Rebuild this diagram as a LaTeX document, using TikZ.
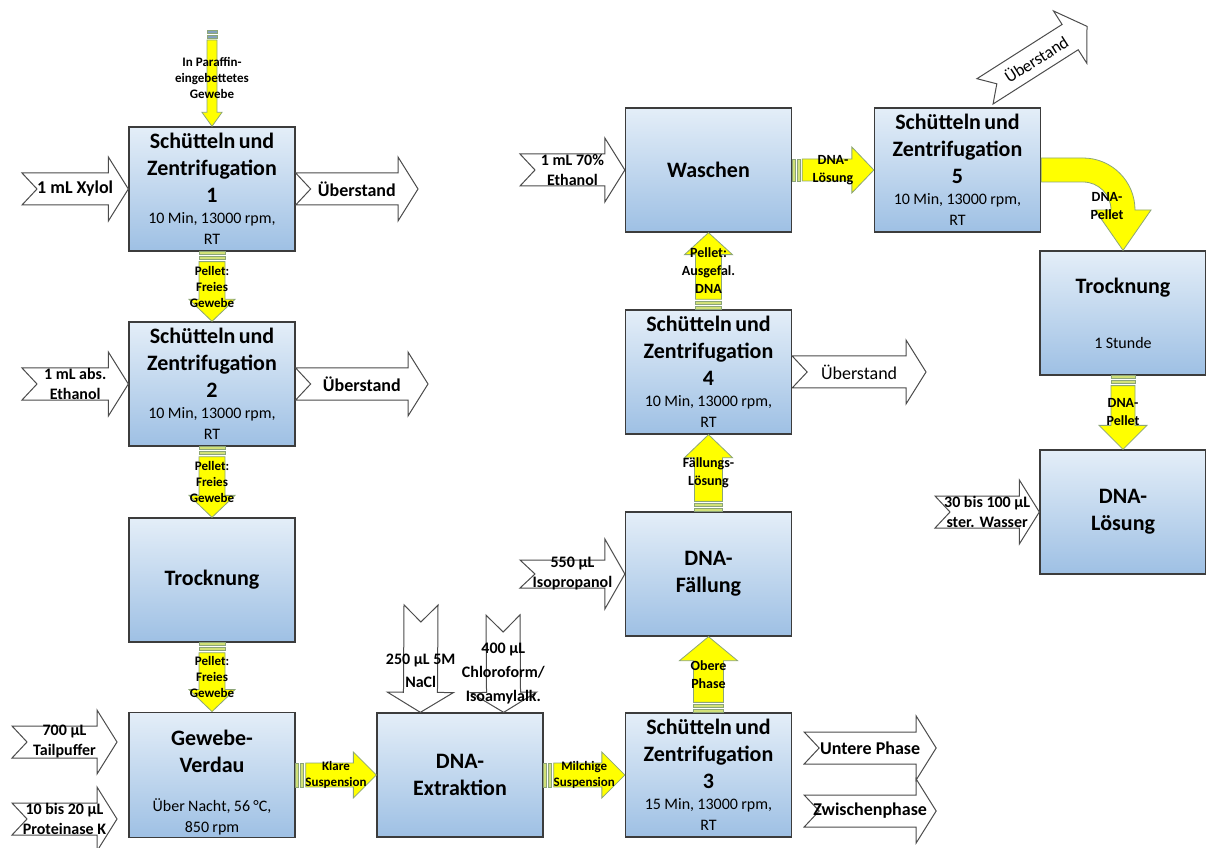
\documentclass[tikz,border=0pt]{standalone}
\usepackage{fontspec}
\setmainfont{Carlito}
\usetikzlibrary{calc,positioning}

\definecolor{boxtop}{RGB}{228,238,248}
\definecolor{boxbot}{RGB}{158,192,228}
\definecolor{boxline}{RGB}{60,60,60}
\definecolor{flowfill}{RGB}{255,255,0}
\definecolor{flowline}{RGB}{140,165,120}
\definecolor{stripefill}{RGB}{210,225,120}
\definecolor{bluestripe}{RGB}{130,160,190}

\newcommand{\titlefont}{\fontsize{22}{27}\selectfont\bfseries}
\newcommand{\subfont}{\fontsize{16}{21}\selectfont}
\newcommand{\inlabfont}{\fontsize{16}{20}\selectfont\bfseries}
\newcommand{\biglab}{\fontsize{18}{21}\selectfont}
\newcommand{\flowfont}{\fontsize{14}{18}\selectfont\bfseries}
\newcommand{\smallflow}{\fontsize{13}{16}\selectfont\bfseries}

% text of a process box: [extra space]{title}{conditions}
\newcommand{\steptext}[3][0pt]{{\titlefont #2\par}\vspace{#1}{\subfont #3\par}}

\tikzset{
  stepbox/.style={draw=boxline, line width=1.3pt, top color=boxtop, bottom color=boxbot,
    minimum width=166pt, minimum height=124pt, text width=160pt, align=center, inner sep=3pt},
  notchdims/.code args={#1/#2/#3/#4}{\def\nshaft{#1}\def\nhead{#2}\def\nlen{#3}\def\ndepth{#4}},
  flowdims/.code args={#1/#2/#3}{\def\fshaft{#1}\def\fhead{#2}\def\flen{#3}},
  notchline/.style={draw=black!70, line width=1pt, fill=white},
  flowedge/.style={draw=flowline, line width=0.8pt, fill=flowfill},
  flowstripe/.style={flowedge, fill=stripefill},
  inlabel/.style={font=\inlabfont, align=center, inner sep=0pt},
  flowlabel/.style={font=\flowfont, align=center, inner sep=0pt},
  labelopts/.style={},
}

% white notched arrow: [options]{from}{to}{label name}{label}
\newcommand{\notcharrow}[5][]{%
  \begin{scope}[notchdims=16pt/32pt/20pt/15pt, #1]
    \draw[notchline]
      ($(#2)!\nshaft!90:(#3)$) -- ($(#3)!\nlen!(#2)!\nshaft!-90:(#2)$)
      -- ($(#3)!\nlen!(#2)!\nhead!-90:(#2)$) -- (#3)
      -- ($(#3)!\nlen!(#2)!\nhead!90:(#2)$) -- ($(#3)!\nlen!(#2)!\nshaft!90:(#2)$)
      -- ($(#2)!\nshaft!-90:(#3)$) -- ($(#2)!\ndepth!(#3)$) -- cycle;
    \node[inlabel, labelopts] (#4) at ($(#2)!0.5!(#3)$) {#5};
  \end{scope}}

% yellow striped arrow: [options]{from}{to}{label name}{label}
\newcommand{\flowarrow}[5][]{%
  \begin{scope}[flowdims=13pt/23pt/22pt, #1]
    \foreach \sa/\sb in {0pt/3pt, 5pt/8pt}
      \draw[flowstripe]
        ($(#2)!\sa!(#3)!\fshaft!90:(#3)$) -- ($(#2)!\sb!(#3)!\fshaft!90:(#3)$)
        -- ($(#2)!\sb!(#3)!\fshaft!-90:(#3)$) -- ($(#2)!\sa!(#3)!\fshaft!-90:(#3)$) -- cycle;
    \draw[flowedge]
      ($(#2)!10pt!(#3)!\fshaft!90:(#3)$) -- ($(#3)!\flen!(#2)!\fshaft!-90:(#2)$)
      -- ($(#3)!\flen!(#2)!\fhead!-90:(#2)$) -- (#3)
      -- ($(#3)!\flen!(#2)!\fhead!90:(#2)$) -- ($(#3)!\flen!(#2)!\fshaft!90:(#2)$)
      -- ($(#2)!10pt!(#3)!\fshaft!-90:(#3)$) -- cycle;
    \node[flowlabel, labelopts] (#4) at ($(#2)!0.5!(#3)$) {#5};
  \end{scope}}

\begin{document}
\begin{tikzpicture}[x=1pt, y=1pt]
  \useasboundingbox (0,0) rectangle (1206,847);

  % Process steps
  \node[stepbox] (s1) at (212,658) {\steptext{Schütteln und\\Zentrifugation\\1}{10 Min, 13000 rpm,\\RT}};
  \node[stepbox] (s2) at (212,463) {\steptext{Schütteln und\\Zentrifugation\\2}{10 Min, 13000 rpm,\\RT}};
  \node[stepbox] (dry1) at (212,267) {\steptext{Trocknung}{}};
  \node[stepbox] (digest) at (212,72) {\steptext[18pt]{\rule{0pt}{30pt}Gewebe-\\Verdau}{Über Nacht, 56 °C,\\850 rpm}};
  \node[stepbox] (extract) at (460,72) {\steptext{DNA-\\Extraktion}{}};
  \node[stepbox] (s3) at (708.5,72) {\steptext{Schütteln und\\Zentrifugation\\3}{15 Min, 13000 rpm,\\RT}};
  \node[stepbox] (precip) at (708.5,273) {\steptext{DNA-\\Fällung}{}};
  \node[stepbox] (s4) at (708.5,475) {\steptext{Schütteln und\\Zentrifugation\\4}{10 Min, 13000 rpm,\\RT}};
  \node[stepbox] (wash) at (708.5,677) {\steptext{Waschen}{}};
  \node[stepbox] (s5) at (957.5,677) {\steptext{Schütteln und\\Zentrifugation\\5}{10 Min, 13000 rpm,\\RT}};
  \node[stepbox] (dry2) at (1123,534) {\steptext[34pt]{Trocknung}{1 Stunde}};
  \node[stepbox] (dnasol) at (1123,335) {\steptext{DNA-\\Lösung}{}};

  % Free ends of the in- and outputs
  \coordinate (paraffin) at (212,817);
  \coordinate (xylol) at (22,658);
  \coordinate (over1) at (418,658);
  \coordinate (ethabs) at (22,463);
  \coordinate (over2) at (428,463);
  \coordinate (buffer) at (12,105);
  \coordinate (bufferend) at (117,105);
  \coordinate (protk) at (12,28);
  \coordinate (protkend) at (117,28);
  \coordinate (nacl) at (421,242);
  \coordinate (naclend) at ($(extract.north west)+(44,0)$);
  \coordinate (chcl) at (503,232);
  \coordinate (chclend) at ($(extract.north east)+(-40,0)$);
  \coordinate (isoprop) at (520,273);
  \coordinate (eth70) at (520,677);
  \coordinate (over4) at (926,475);
  \coordinate (lower) at ($(s3.east)+(12,27)$);
  \coordinate (lowerend) at ($(s3.east)+(144,27)$);
  \coordinate (inter) at ($(s3.east)+(12,-36)$);
  \coordinate (interend) at ($(s3.east)+(144,-36)$);
  \coordinate (water) at (935,335);
  \coordinate (over5) at ($(s5.north)+(27.5,16)$);
  \coordinate (over5end) at ($(s5.north)+(129.5,81)$);

  % Added and removed material
  \notcharrow{xylol}{s1.west}{lxylol}{\biglab 1 mL Xylol}
  \notcharrow{s1.east}{over1}{lover1}{\biglab Überstand}
  \notcharrow{ethabs}{s2.west}{lethabs}{1 mL abs.\\Ethanol}
  \notcharrow{s2.east}{over2}{lover2}{\biglab Überstand}
  \notcharrow{buffer}{bufferend}{lbuffer}{700 µL\\Tailpuffer}
  \notcharrow{protk}{protkend}{lprotk}{10 bis 20 µL\\Proteinase K}
  \notcharrow[notchdims=17pt/33pt/20pt/17pt, labelopts/.style={yshift=-12pt, font=\fontsize{16}{23}\selectfont\bfseries}]{nacl}{naclend}{lnacl}{250 µL 5M\\NaCl}
  \notcharrow[notchdims=17pt/33pt/20pt/17pt, labelopts/.style={yshift=-10pt, font=\fontsize{16}{24}\selectfont\bfseries}]{chcl}{chclend}{lchcl}{400 µL\\Chloroform/\\Isoamylalk.}
  \notcharrow[notchdims=14pt/35pt/20pt/15pt]{isoprop}{precip.west}{lisoprop}{550 µL\\Isopropanol}
  \notcharrow{eth70}{wash.west}{leth70}{1 mL 70\%\\Ethanol}
  \notcharrow[labelopts/.style={font=\biglab}]{s4.east}{over4}{lover4}{Überstand}
  \notcharrow{lower}{lowerend}{llower}{\biglab Untere Phase}
  \notcharrow{inter}{interend}{linter}{\biglab Zwischenphase}
  \notcharrow{water}{dnasol.west}{lwater}{30 bis 100 µL\\ster. Wasser}
  \notcharrow[notchdims=15pt/31pt/20pt/14pt, labelopts/.style={rotate=32.5, font=\fontsize{17}{20}\selectfont}]{over5}{over5end}{lover5}{Überstand}

  % Sample flow
  \flowarrow[flowdims=5pt/10pt/14pt, flowstripe/.style={flowedge, fill=bluestripe}, labelopts/.style={font=\smallflow}]{paraffin}{s1.north}{fparaffin}{In Paraffin-\\eingebettetes\\Gewebe}
  \flowarrow[labelopts/.style={font=\smallflow}]{s1.south}{s2.north}{f12}{Pellet:\\Freies\\Gewebe}
  \flowarrow[labelopts/.style={font=\smallflow}]{s2.south}{dry1.north}{f23}{Pellet:\\Freies\\Gewebe}
  \flowarrow[labelopts/.style={font=\smallflow}]{dry1.south}{digest.north}{f34}{Pellet:\\Freies\\Gewebe}
  \flowarrow[flowdims=12pt/23pt/23pt, labelopts/.style={font=\smallflow}]{digest.east}{extract.west}{fdigest}{Klare\\Suspension}
  \flowarrow[flowdims=12pt/23pt/23pt, labelopts/.style={font=\smallflow}]{extract.east}{s3.west}{fextract}{Milchige\\Suspension}
  \flowarrow[flowdims=15pt/29pt/24pt]{s3.north}{precip.south}{fupper}{Obere\\Phase}
  \flowarrow[flowdims=14pt/24pt/23pt]{precip.north}{s4.south}{fprecip}{Fällungs-\\Lösung}
  \flowarrow[flowdims=13pt/24pt/22pt]{s4.north}{wash.south}{fpellet}{Pellet:\\Ausgefal.\\DNA}
  \flowarrow[flowdims=11pt/23pt/22pt]{wash.east}{s5.west}{fwash}{DNA-\\Lösung}
  \draw[flowedge] let \p1=(s5.east), \p2=(dry2.north) in
    (\x1,{\y1+12pt}) -- ({\x2-40pt},{\y1+12pt})
    arc[start angle=90, end angle=0, radius=52pt]
    -- ({\x2+28pt},{\y1-40pt}) -- (\p2) -- ({\x2-28pt},{\y1-40pt})
    -- ({\x2-12pt},{\y1-40pt}) arc[start angle=0, end angle=90, radius=28pt]
    -- (\x1,{\y1-12pt}) -- cycle;
  \node[flowlabel] (fbend) at ($(dry2.north)+(-16,44)$) {DNA-\\Pellet};
  \flowarrow[flowdims=12pt/24pt/24pt]{dry2.south}{dnasol.north}{fdry}{DNA-\\Pellet}
\end{tikzpicture}
\end{document}
